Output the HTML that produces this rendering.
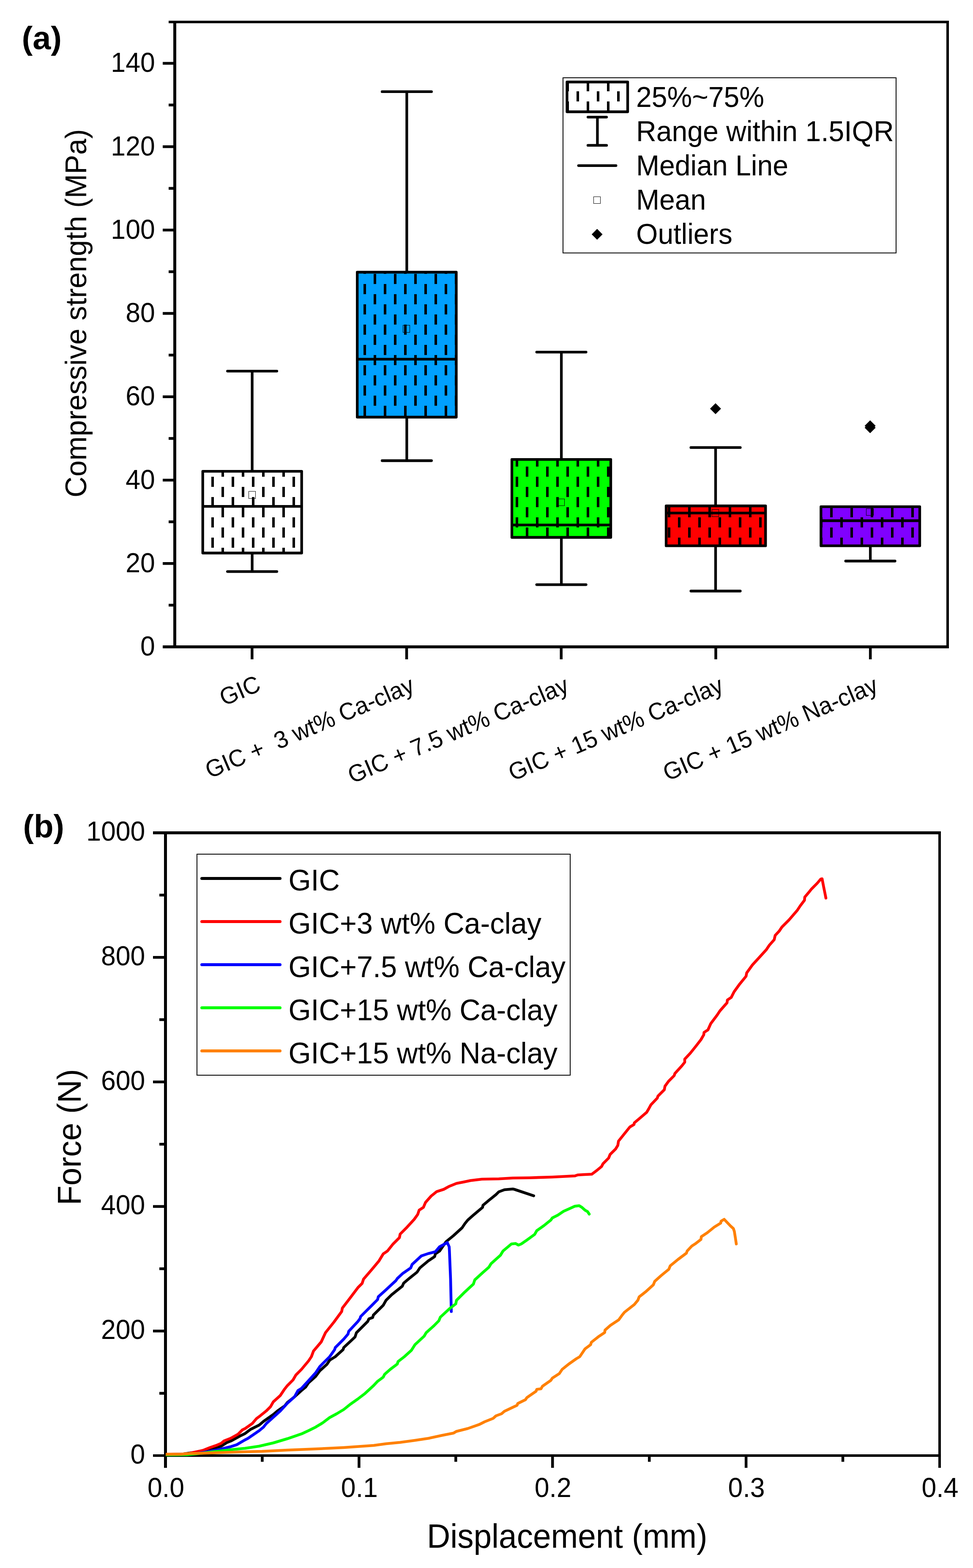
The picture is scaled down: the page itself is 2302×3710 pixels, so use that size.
<!DOCTYPE html>
<html lang="en">
<head>
<meta charset="utf-8">
<title>Compressive strength and force-displacement of GIC with clay</title>
<style>
html,body{margin:0;padding:0;background:#fff;}
body{width:2302px;height:3710px;}
svg{display:block;}
.t{font-family:"Liberation Sans", sans-serif;fill:#000;}
.b{font-weight:bold;}
.k{stroke:#000;stroke-width:6.3;}
.tk{stroke-width:6.5;}
.rc{stroke-linecap:round;}
.rj{stroke-linejoin:round;}
</style>
</head>
<body>
<svg width="2302" height="3710" viewBox="0 0 2302 3710">
<defs>
<pattern id="hatch" patternUnits="userSpaceOnUse" x="-8" y="0" width="48" height="48">
<rect x="28" y="24" width="6" height="24" fill="#000"/>
<rect x="4" y="0" width="6" height="24" fill="#000"/>
</pattern>
</defs>
<rect x="0" y="0" width="2302" height="3710" fill="#fff"/>

<g id="panel-a">
<g>
<line x1="596.6" y1="1115.1" x2="596.6" y2="878.1" class="k"/>
<line x1="538.2" y1="878.1" x2="655" y2="878.1" class="k rc"/>
<line x1="596.6" y1="1308.5" x2="596.6" y2="1352.3" class="k"/>
<line x1="538.2" y1="1352.3" x2="655" y2="1352.3" class="k rc"/>
<rect x="479.7" y="1115.1" width="234" height="193.4" fill="#ffffff"/>
<rect x="479.7" y="1115.1" width="234" height="193.4" fill="url(#hatch)"/>
<rect x="479.7" y="1115.1" width="234" height="193.4" fill="none" class="k rj"/>
<line x1="479.7" y1="1198.2" x2="713.7" y2="1198.2" class="k"/>
<rect x="588.5" y="1162.5" width="16" height="17" fill="none" stroke="#000" stroke-width="1"/>
</g>
<g>
<line x1="962.4" y1="644" x2="962.4" y2="216.9" class="k"/>
<line x1="904" y1="216.9" x2="1020.8" y2="216.9" class="k rc"/>
<line x1="962.4" y1="987" x2="962.4" y2="1090" class="k"/>
<line x1="904" y1="1090" x2="1020.8" y2="1090" class="k rc"/>
<rect x="845.2" y="644" width="234.3" height="343" fill="#00a0ff"/>
<rect x="845.2" y="644" width="234.3" height="343" fill="url(#hatch)"/>
<rect x="845.2" y="644" width="234.3" height="343" fill="none" class="k rj"/>
<line x1="845.2" y1="849.8" x2="1079.5" y2="849.8" class="k"/>
<rect x="953.5" y="769.5" width="16" height="17" fill="none" stroke="#000" stroke-width="1"/>
</g>
<g>
<line x1="1328.1" y1="1087.1" x2="1328.1" y2="833.1" class="k"/>
<line x1="1269.7" y1="833.1" x2="1386.5" y2="833.1" class="k rc"/>
<line x1="1328.1" y1="1271.5" x2="1328.1" y2="1383.3" class="k"/>
<line x1="1269.7" y1="1383.3" x2="1386.5" y2="1383.3" class="k rc"/>
<rect x="1211" y="1087.1" width="234" height="184.4" fill="#00ff00"/>
<rect x="1211" y="1087.1" width="234" height="184.4" fill="url(#hatch)"/>
<rect x="1211" y="1087.1" width="234" height="184.4" fill="none" class="k rj"/>
<line x1="1211" y1="1242.2" x2="1445" y2="1242.2" class="k"/>
<rect x="1319.5" y="1180.5" width="16" height="16" fill="none" stroke="#000" stroke-width="1"/>
</g>
<g>
<line x1="1693" y1="1197" x2="1693" y2="1058.9" class="k"/>
<line x1="1634.6" y1="1058.9" x2="1751.4" y2="1058.9" class="k rc"/>
<line x1="1693" y1="1291.4" x2="1693" y2="1398.5" class="k"/>
<line x1="1634.6" y1="1398.5" x2="1751.4" y2="1398.5" class="k rc"/>
<rect x="1576" y="1197" width="235.2" height="94.4" fill="#ff0000"/>
<rect x="1576" y="1197" width="235.2" height="94.4" fill="url(#hatch)"/>
<rect x="1576" y="1197" width="235.2" height="94.4" fill="none" class="k rj"/>
<line x1="1576" y1="1213.9" x2="1811.2" y2="1213.9" class="k"/>
<rect x="1684.5" y="1205.5" width="16" height="17" fill="none" stroke="#000" stroke-width="1"/>
</g>
<g>
<line x1="2059.1" y1="1291.4" x2="2059.1" y2="1327.5" class="k"/>
<line x1="2000.7" y1="1327.5" x2="2117.5" y2="1327.5" class="k rc"/>
<rect x="1942.3" y="1198.9" width="233.7" height="92.5" fill="#8000ff"/>
<rect x="1942.3" y="1198.9" width="233.7" height="92.5" fill="url(#hatch)"/>
<rect x="1942.3" y="1198.9" width="233.7" height="92.5" fill="none" class="k rj"/>
<line x1="1942.3" y1="1232" x2="2176" y2="1232" class="k"/>
<rect x="2049.5" y="1203.5" width="17" height="16" fill="none" stroke="#000" stroke-width="1"/>
</g>
<path d="M1679.9 967.1L1692.9 954.1L1705.9 967.1L1692.9 980.1Z" fill="#000"/>
<path d="M2045.6 1007.5L2058.6 994.5L2071.6 1007.5L2058.6 1020.5Z" fill="#000"/>
<path d="M2045.6 1012L2058.6 999L2071.6 1012L2058.6 1025Z" fill="#000"/>
<path d="M410 49H2245V1534H410ZM417 55V1527H2239V55Z" fill="#000" fill-rule="evenodd"/>
<rect x="385" y="1527" width="26" height="7" fill="#000"/>
<rect x="399" y="49" width="12" height="6" fill="#000"/>
<line x1="399" y1="1431.88" x2="413.5" y2="1431.88" class="k tk"/>
<line x1="385" y1="1333.26" x2="413.5" y2="1333.26" class="k tk"/>
<line x1="399" y1="1234.64" x2="413.5" y2="1234.64" class="k tk"/>
<line x1="385" y1="1136.02" x2="413.5" y2="1136.02" class="k tk"/>
<line x1="399" y1="1037.4" x2="413.5" y2="1037.4" class="k tk"/>
<line x1="385" y1="938.78" x2="413.5" y2="938.78" class="k tk"/>
<line x1="399" y1="840.16" x2="413.5" y2="840.16" class="k tk"/>
<line x1="385" y1="741.54" x2="413.5" y2="741.54" class="k tk"/>
<line x1="399" y1="642.92" x2="413.5" y2="642.92" class="k tk"/>
<line x1="385" y1="544.3" x2="413.5" y2="544.3" class="k tk"/>
<line x1="399" y1="445.68" x2="413.5" y2="445.68" class="k tk"/>
<line x1="385" y1="347.06" x2="413.5" y2="347.06" class="k tk"/>
<line x1="399" y1="248.44" x2="413.5" y2="248.44" class="k tk"/>
<line x1="385" y1="149.82" x2="413.5" y2="149.82" class="k tk"/>
<line x1="596.35" y1="1530.5" x2="596.35" y2="1560" class="k tk"/>
<line x1="962.05" y1="1530.5" x2="962.05" y2="1560" class="k tk"/>
<line x1="1327.75" y1="1530.5" x2="1327.75" y2="1560" class="k tk"/>
<line x1="1693.45" y1="1530.5" x2="1693.45" y2="1560" class="k tk"/>
<line x1="2059.15" y1="1530.5" x2="2059.15" y2="1560" class="k tk"/>
<text transform="translate(366.8 1551) scale(1.0 1.043)" class="t" font-size="62.6" text-anchor="end">0</text>
<text transform="translate(366.8 1353.76) scale(1.0 1.043)" class="t" font-size="62.6" text-anchor="end">20</text>
<text transform="translate(366.8 1156.52) scale(1.0 1.043)" class="t" font-size="62.6" text-anchor="end">40</text>
<text transform="translate(366.8 959.28) scale(1.0 1.043)" class="t" font-size="62.6" text-anchor="end">60</text>
<text transform="translate(366.8 762.04) scale(1.0 1.043)" class="t" font-size="62.6" text-anchor="end">80</text>
<text transform="translate(366.8 564.8) scale(1.0 1.043)" class="t" font-size="62.6" text-anchor="end">100</text>
<text transform="translate(366.8 367.56) scale(1.0 1.043)" class="t" font-size="62.6" text-anchor="end">120</text>
<text transform="translate(366.8 170.32) scale(1.0 1.043)" class="t" font-size="62.6" text-anchor="end">140</text>
<text transform="translate(204.3 741.2) rotate(-90) scale(1.0 1.03)" class="t" font-size="68.5" text-anchor="middle">Compressive strength (MPa)</text>
<text transform="translate(620.35 1632.7) rotate(-23) scale(1.0 1.03)" class="t" font-size="55.3" text-anchor="end" xml:space="preserve">GIC</text>
<text transform="translate(983.85 1635.5) rotate(-23) scale(1.0 1.03)" class="t" font-size="55.3" text-anchor="end" xml:space="preserve">GIC +  3 wt% Ca-clay</text>
<text transform="translate(1349.55 1635.5) rotate(-23) scale(1.0 1.03)" class="t" font-size="55.3" text-anchor="end" xml:space="preserve">GIC + 7.5 wt% Ca-clay</text>
<text transform="translate(1715.25 1635.5) rotate(-23) scale(1.0 1.03)" class="t" font-size="55.3" text-anchor="end" xml:space="preserve">GIC + 15 wt% Ca-clay</text>
<text transform="translate(2080.95 1635.5) rotate(-23) scale(1.0 1.03)" class="t" font-size="55.3" text-anchor="end" xml:space="preserve">GIC + 15 wt% Na-clay</text>
<rect x="1332" y="184" width="788" height="414.5" fill="#fff" stroke="#000" stroke-width="2"/>
<rect x="1341.5" y="194.0" width="143.5" height="70.5" fill="#fff"/>
<rect x="1341.5" y="194.0" width="143.5" height="70.5" fill="url(#hatch)"/>
<rect x="1341.5" y="194.0" width="143.5" height="70.5" fill="none" class="k rj"/>
<line x1="1413.4" y1="277.1" x2="1413.4" y2="343.9" class="k"/>
<line x1="1391" y1="277.1" x2="1435" y2="277.1" class="k rc"/>
<line x1="1391" y1="343.9" x2="1435" y2="343.9" class="k rc"/>
<line x1="1368.8" y1="391.8" x2="1457.3" y2="391.8" class="k rc"/>
<rect x="1404.5" y="465.5" width="16" height="16" fill="none" stroke="#000" stroke-width="1"/>
<path d="M1399.9 554.4L1412.7 541.6L1425.5 554.4L1412.7 567.2Z" fill="#000"/>
<text transform="translate(1505 253) scale(1.0 1.03)" class="t" font-size="66.1">25%~75%</text>
<text transform="translate(1505 334) scale(1.0 1.03)" class="t" font-size="66.1">Range within 1.5IQR</text>
<text transform="translate(1505 415) scale(1.0 1.03)" class="t" font-size="66.1">Median Line</text>
<text transform="translate(1505 496) scale(1.0 1.03)" class="t" font-size="66.1">Mean</text>
<text transform="translate(1505 577) scale(1.0 1.03)" class="t" font-size="66.1">Outliers</text>
<text transform="translate(51.4 116) scale(1.012 0.99)" class="t b" font-size="76.5">(a)</text>
</g>
<g id="panel-b">
<path d="M388 1967H2226V3447H388ZM395 1974V3441H2220V1974Z" fill="#000" fill-rule="evenodd"/>
<rect x="362" y="1967" width="27" height="7" fill="#000"/>
<rect x="362" y="3441" width="27" height="6" fill="#000"/>
<rect x="388" y="3446" width="7" height="27" fill="#000"/>
<rect x="2220" y="3446" width="6" height="27" fill="#000"/>
<line x1="377" y1="3296.65" x2="391.5" y2="3296.65" class="k tk"/>
<line x1="362" y1="3149.3" x2="391.5" y2="3149.3" class="k tk"/>
<line x1="377" y1="3001.95" x2="391.5" y2="3001.95" class="k tk"/>
<line x1="362" y1="2854.6" x2="391.5" y2="2854.6" class="k tk"/>
<line x1="377" y1="2707.25" x2="391.5" y2="2707.25" class="k tk"/>
<line x1="362" y1="2559.9" x2="391.5" y2="2559.9" class="k tk"/>
<line x1="377" y1="2412.55" x2="391.5" y2="2412.55" class="k tk"/>
<line x1="362" y1="2265.2" x2="391.5" y2="2265.2" class="k tk"/>
<line x1="377" y1="2117.85" x2="391.5" y2="2117.85" class="k tk"/>
<line x1="620.44" y1="3444" x2="620.44" y2="3458.7" class="k tk"/>
<line x1="849.38" y1="3444" x2="849.38" y2="3473" class="k tk"/>
<line x1="1078.31" y1="3444" x2="1078.31" y2="3458.7" class="k tk"/>
<line x1="1307.25" y1="3444" x2="1307.25" y2="3473" class="k tk"/>
<line x1="1536.19" y1="3444" x2="1536.19" y2="3458.7" class="k tk"/>
<line x1="1765.12" y1="3444" x2="1765.12" y2="3473" class="k tk"/>
<line x1="1994.06" y1="3444" x2="1994.06" y2="3458.7" class="k tk"/>
<text transform="translate(343.4 3462.6) scale(1.0 1.043)" class="t" font-size="62.6" text-anchor="end">0</text>
<text transform="translate(343.4 3167.9) scale(1.0 1.043)" class="t" font-size="62.6" text-anchor="end">200</text>
<text transform="translate(343.4 2873.2) scale(1.0 1.043)" class="t" font-size="62.6" text-anchor="end">400</text>
<text transform="translate(343.4 2578.5) scale(1.0 1.043)" class="t" font-size="62.6" text-anchor="end">600</text>
<text transform="translate(343.4 2283.8) scale(1.0 1.043)" class="t" font-size="62.6" text-anchor="end">800</text>
<text transform="translate(343.4 1989.1) scale(1.0 1.043)" class="t" font-size="62.6" text-anchor="end">1000</text>
<text transform="translate(392.5 3542.4) scale(1.0 1.043)" class="t" font-size="62.6" text-anchor="middle">0.0</text>
<text transform="translate(850.38 3542.4) scale(1.0 1.043)" class="t" font-size="62.6" text-anchor="middle">0.1</text>
<text transform="translate(1308.25 3542.4) scale(1.0 1.043)" class="t" font-size="62.6" text-anchor="middle">0.2</text>
<text transform="translate(1766.12 3542.4) scale(1.0 1.043)" class="t" font-size="62.6" text-anchor="middle">0.3</text>
<text transform="translate(2224 3542.4) scale(1.0 1.043)" class="t" font-size="62.6" text-anchor="middle">0.4</text>
<text transform="translate(1341.7 3662.2) scale(1.0 1.03)" class="t" font-size="76.55" text-anchor="middle">Displacement (mm)</text>
<text transform="translate(191.2 2690.6) rotate(-90) scale(1.0 1.03)" class="t" font-size="76.4" text-anchor="middle">Force (N)</text>
<clipPath id="plotb"><rect x="392" y="1960" width="1850" height="1500"/></clipPath>
<g clip-path="url(#plotb)">
<path d="M389 3441.6L430 3440.8L446.7 3438.3L480 3434L496.7 3430L513.3 3425L523.3 3421.7L536.7 3413.3L546.7 3409.3L566.7 3398.3L580 3391.7L593.3 3381.7L613.3 3371.7L623.3 3363.3L646.7 3346.7L656.7 3338.3L673.3 3326.7L680 3318.3L696.7 3305L713.3 3290L723.3 3281.7L730 3271.7L746.7 3256.7L756.7 3243.3L773.3 3228.3L780 3218.3L793.3 3210L811.7 3193.3L813.3 3188.3L840 3163.3L843.3 3153.3L870 3126.7L872.7 3120.7L881.7 3117.3L883.3 3111.7L906.7 3088.3L913.3 3076.7L926.7 3063.3L951.7 3043.3L955 3036L970 3023.3L986.7 3010L993.3 3000L1013.3 2983.3L1028.3 2973.3L1030 2966.7L1040 2960L1055 2938.3L1073.3 2923.3L1093.3 2905L1100 2895L1106.7 2886.7L1120 2875L1141.7 2856.7L1142.7 2851.7L1156.7 2840L1173.3 2826.7L1180 2820L1193.3 2815L1213.3 2813.3L1216.7 2814L1262.7 2829.3" fill="none" stroke="#000000" stroke-width="6.6" stroke-linejoin="round" stroke-linecap="round"/>
<path d="M389 3441.2L430 3440.6L446.7 3439.3L456.7 3436.7L480 3431.7L496.7 3425L513.3 3419.3L523.3 3415L530 3409.3L546.7 3402.7L563.3 3393.3L573.3 3383.3L580 3380L596.7 3368.3L606.7 3356.7L613.3 3351.7L630 3338.3L640 3328.3L646.7 3316.7L663.3 3301.7L673.3 3286.7L680 3278.3L693.3 3265L700 3253.3L713.3 3240L730 3220L736.7 3210L741.7 3196.7L760 3175L770 3153.3L790 3128.3L808.3 3103.3L810 3095L826.7 3073.3L846.7 3046.7L856.7 3036.7L860 3026.7L880 3003.3L896.7 2983.3L906.7 2966.7L916.7 2960L930 2943.3L945 2928.3L946.7 2920L963.3 2903.3L980 2885L988.3 2873.3L991.7 2863.3L1001.7 2856.7L1006.7 2845L1020 2830L1033.3 2819.3L1050 2814L1063.3 2806.7L1080 2800L1096.7 2796.7L1113.3 2793.3L1140 2790L1180 2789.3L1213.3 2787.3L1253.3 2786.7L1306.7 2785L1360 2782.3L1366.7 2780L1384 2779L1400 2778.3L1413.3 2768.3L1423.3 2760L1426.7 2753.3L1440 2740L1443.3 2731.7L1456.7 2718.3L1461.7 2710L1463.3 2700L1476.7 2683.3L1490 2666.7L1500 2660.7L1500.7 2656.7L1516.7 2643.3L1530 2631.7L1535 2623.3L1540 2614L1555 2598.3L1556.7 2593.3L1571.7 2578.3L1573.3 2570L1581.7 2558.3L1595 2545L1596.7 2540L1613.3 2521.7L1620 2513.3L1620 2506L1633.3 2491.7L1646.7 2475L1658.3 2460L1665 2448.3L1665.7 2442.7L1675 2436.7L1681.7 2421.7L1696.7 2401.7L1703.3 2391.7L1720 2372.7L1721 2366L1730 2360L1736.7 2346.7L1750 2328.3L1765 2310L1766.7 2301.7L1780 2283.3L1796.7 2265L1813.3 2246.7L1820 2236.7L1831.7 2223.3L1834 2213.3L1843.3 2203.3L1850 2193.3L1866.7 2176.7L1886.7 2153.3L1893.3 2143.3L1903.3 2130L1904 2122.7L1913.3 2111.7L1920 2103.3L1933.3 2090L1941.7 2080L1945 2079.3L1948.3 2096.7L1951.7 2113.3L1954 2125" fill="none" stroke="#ff0000" stroke-width="6.6" stroke-linejoin="round" stroke-linecap="round"/>
<path d="M389 3441.8L440 3441.2L463.3 3439.3L480 3436.7L513.3 3430.7L530 3426.7L546.7 3422.7L560 3418.3L580 3406.7L586.7 3403.3L613.3 3385L623.3 3376.7L630 3368.3L646.7 3353.3L663.3 3338.3L680 3320L696.7 3305L705 3290L713.3 3285L730 3266.7L746.7 3248.3L756.7 3233.3L763.3 3226.7L780 3210L791.7 3193.3L793.3 3188.3L813.3 3168.3L823.3 3156.7L825 3150L846.7 3126.7L851.7 3120L853.3 3115L880 3088.3L893.3 3075L895 3068.3L913.3 3051.7L936.7 3030L940 3025L953.3 3012.7L971.7 3000L975 2991.7L996.7 2971.7L1013.3 2966L1030 2961.7L1040 2950L1058.3 2940L1062.7 2950L1063.3 2960L1066 3026.7L1067.7 3103.3" fill="none" stroke="#0000ff" stroke-width="6.6" stroke-linejoin="round" stroke-linecap="round"/>
<path d="M389 3442.3L442.6 3441.9L463.3 3440L513.3 3434L546.7 3430L580 3426.7L613.3 3421.7L646.7 3414L680 3404L713.3 3392.7L730 3385L746.7 3376.7L763.3 3366.7L780 3354L796.7 3345L813.3 3335L830 3321.7L846.7 3310L863.3 3297.3L884 3278.3L893.3 3268.3L906.7 3258.3L910 3251.7L923.3 3240L940 3227.3L941.7 3221.7L956.7 3210L973.3 3195L981.7 3181.7L1003.3 3161.7L1008.3 3153.3L1026.7 3136.7L1038.3 3125L1041.7 3116.7L1063.3 3096.7L1078.3 3085L1080 3076.7L1100 3056.7L1120 3038.3L1123.3 3028.3L1143.3 3010L1156.7 2998.3L1161.7 2990L1184 2970L1190 2960L1210 2943.3L1220 2942.3L1226.7 2946L1233.3 2943.3L1246.7 2934L1265 2920.7L1270 2911.7L1286.7 2900L1303.3 2886.7L1306.7 2881.7L1320 2875L1333.3 2866L1346.7 2860L1360 2854L1370 2852.7L1376.7 2856.7L1384 2863.3L1390 2866.7L1394 2872.7" fill="none" stroke="#00ff00" stroke-width="6.6" stroke-linejoin="round" stroke-linecap="round"/>
<path d="M389 3441.1L429.4 3440.6L446.7 3439.3L513.3 3437.3L580 3435L620 3434L680 3431L746.7 3428.3L813.3 3425L884 3420L913.3 3416L946.7 3412.7L980 3408.3L1013.3 3403.3L1046.7 3396L1073.3 3390.7L1080 3386.7L1106.7 3380L1133.3 3370.7L1146.7 3364L1166.7 3356L1173.3 3350L1186.7 3345L1193.3 3339.3L1223.3 3325L1225 3320.7L1243.3 3311.7L1246.7 3306.7L1268.3 3291.7L1270 3287.3L1280 3286L1283.3 3280L1303.3 3266L1306.7 3260.7L1323.3 3250L1330 3240L1346.7 3226.7L1363.3 3215L1371.7 3210L1384 3191.7L1397.3 3181.7L1399 3176L1417.3 3161.7L1430.7 3152.7L1431.3 3147.3L1444 3136L1464 3122.7L1470.7 3113.3L1477.3 3105L1500.7 3086.7L1509 3076.7L1512.3 3068.3L1527.3 3056.7L1545.7 3040L1549 3031.7L1564 3018.3L1582.3 3003.3L1585.7 2995L1604 2980L1624 2965L1625.7 2960L1636.7 2948.3L1646.7 2941.7L1658.3 2932.7L1659.3 2926L1673.3 2916.7L1690 2903.3L1705 2894L1706 2889.3L1713.3 2885L1728.3 2900.7L1735 2906.7L1737.3 2913.3L1740 2930L1742 2943.3" fill="none" stroke="#ff8000" stroke-width="6.6" stroke-linejoin="round" stroke-linecap="round"/>
</g>
<rect x="466" y="2021" width="883" height="523" fill="#fff" stroke="#000" stroke-width="2"/>
<line x1="477.5" y1="2078.4" x2="662.5" y2="2078.4" stroke="#000000" stroke-width="7" stroke-linecap="round"/>
<text transform="translate(682.4 2107) scale(1.0 1.03)" class="t" font-size="68.4">GIC</text>
<line x1="477.5" y1="2180.4" x2="662.5" y2="2180.4" stroke="#ff0000" stroke-width="7" stroke-linecap="round"/>
<text transform="translate(682.4 2209.25) scale(1.0 1.03)" class="t" font-size="68.4">GIC+3 wt% Ca-clay</text>
<line x1="477.5" y1="2282.4" x2="662.5" y2="2282.4" stroke="#0000ff" stroke-width="7" stroke-linecap="round"/>
<text transform="translate(682.4 2311.5) scale(1.0 1.03)" class="t" font-size="68.4">GIC+7.5 wt% Ca-clay</text>
<line x1="477.5" y1="2384.4" x2="662.5" y2="2384.4" stroke="#00ff00" stroke-width="7" stroke-linecap="round"/>
<text transform="translate(682.4 2413.75) scale(1.0 1.03)" class="t" font-size="68.4">GIC+15 wt% Ca-clay</text>
<line x1="477.5" y1="2486.4" x2="662.5" y2="2486.4" stroke="#ff8000" stroke-width="7" stroke-linecap="round"/>
<text transform="translate(682.4 2516) scale(1.0 1.03)" class="t" font-size="68.4">GIC+15 wt% Na-clay</text>
<text transform="translate(54.6 1981.3) scale(0.99 0.99)" class="t b" font-size="77">(b)</text>
</g>
</svg>
</body>
</html>
